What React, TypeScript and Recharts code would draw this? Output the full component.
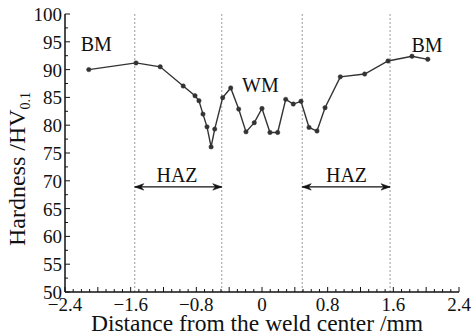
import React from 'react';
import { LineChart, Line, XAxis, YAxis, ReferenceLine, ReferenceDot } from 'recharts';

// Measured points: distance from weld center (mm) and micro-hardness (HV0.1)
const distance = [
  -2.11, -1.535, -1.24, -0.96, -0.816, -0.768, -0.719, -0.67, -0.62, -0.576,
  -0.479, -0.381, -0.284, -0.195, -0.094, 0.0, 0.097, 0.191, 0.289, 0.381,
  0.475, 0.573, 0.67, 0.768, 0.954, 1.251, 1.535, 1.827, 2.02,
];
const hardness = [
  90.0, 91.2, 90.5, 87.05, 85.3, 84.4, 82.0, 79.7, 76.1, 79.3,
  84.95, 86.7, 82.9, 78.8, 80.45, 83.0, 78.7, 78.7, 84.65, 83.8,
  84.3, 79.6, 78.95, 83.15, 88.7, 89.2, 91.55, 92.4, 91.85,
];

// Zone boundaries (dotted lines)
const zoneBounds = [-1.55, -0.49, 0.49, 1.56];

// Axis ticks
const xLabelTicks = [-2.4, -1.6, -0.8, 0, 0.8, 1.6, 2.4];
const xMinorTicks = Array.from({ length: 49 }, (_, i) => Math.round((-2.4 + i * 0.1) * 10) / 10);
const yLabelTicks = [50, 55, 60, 65, 70, 75, 80, 85, 90, 95, 100];
const yMinorTicks = Array.from({ length: 21 }, (_, i) => 50 + i * 2.5);

// Annotations
const zoneLabels = [
  { text: 'BM', x: -2.02, y: 94.6 },
  { text: 'BM', x: 2.01, y: 94.5 },
  { text: 'WM', x: -0.02, y: 87.3 },
  { text: 'HAZ', x: -1.035, y: 71.1 },
  { text: 'HAZ', x: 1.03, y: 71.1 },
];
const arrows = [
  { from: -1.55, to: -0.49, y: 68.9 },
  { from: 0.49, to: 1.56, y: 68.9 },
];

const data = distance.map((d, i) => ({ d, h: hardness[i] }));

const FONT = '"Liberation Serif", "Times New Roman", serif';

const fmtX = (v: number) => {
  if (Math.abs(v) < 1e-9) return '0';
  const s = Math.abs(v).toFixed(1);
  return v < 0 ? '\u2212' + s : s;
};

const XTick = (props: any) => {
  const { x, y, payload } = props;
  const v = payload.value as number;
  const k = Math.round(v * 10);
  const major = k % 4 === 0;
  const labeled = xLabelTicks.some((t) => Math.abs(t - v) < 1e-6);
  return (
    <g>
      <line x1={x} x2={x} y1={y} y2={y - (major ? 5 : 3)} stroke="#111" strokeWidth={1} />
      {labeled && (
        <text x={x} y={y + 18.5} textAnchor="middle" fontFamily={FONT} fontSize={19} fill="#111">
          {fmtX(v)}
        </text>
      )}
    </g>
  );
};

const YTick = (props: any) => {
  const { x, y, payload } = props;
  const v = payload.value as number;
  const labeled = yLabelTicks.some((t) => Math.abs(t - v) < 1e-6);
  return (
    <g>
      <line x1={x} x2={x + (labeled ? 5 : 3)} y1={y} y2={y} stroke="#111" strokeWidth={1} />
      {labeled && (
        <text x={x - 3} y={y + 7} textAnchor="end" fontFamily={FONT} fontSize={19} fill="#111">
          {v}
        </text>
      )}
    </g>
  );
};

const textShape = (txt: string) => (p: any) => (
  <text
    x={p.cx}
    y={p.cy}
    textAnchor="middle"
    dominantBaseline="central"
    fontFamily={FONT}
    fontSize={20}
    fill="#111"
  >
    {txt}
  </text>
);

const arrowHead = (dir: number) => (p: any) => {
  const { cx, cy } = p;
  const L = 9 * dir;
  return (
    <path
      d={`M${cx},${cy} L${cx - L},${cy - 3.2} L${cx - L * 0.7},${cy} L${cx - L},${cy + 3.2} Z`}
      fill="#111"
      stroke="#111"
      strokeWidth={0.6}
    />
  );
};

export default function App() {
  return (
    <div style={{ position: 'absolute', left: 0, top: 0, width: 472, height: 336, background: '#fff' }}>
      <LineChart
        width={472}
        height={336}
        data={data}
        margin={{ top: 14, right: 13, bottom: 0, left: 0 }}
      >
        <XAxis
          dataKey="d"
          type="number"
          domain={[-2.4, 2.4]}
          ticks={xMinorTicks}
          interval={0}
          allowDataOverflow
          height={44}
          tickSize={0}
          tickMargin={0}
          tickLine={false}
          axisLine={{ stroke: '#111', strokeWidth: 1.5 }}
          tick={<XTick />}
        />
        <XAxis
          xAxisId="top"
          orientation="top"
          type="number"
          domain={[-2.4, 2.4]}
          height={0}
          tick={false}
          tickLine={false}
          axisLine={{ stroke: '#111', strokeWidth: 1.5 }}
        />
        <YAxis
          type="number"
          domain={[50, 100]}
          ticks={yMinorTicks}
          interval={0}
          allowDataOverflow
          width={65}
          tickSize={0}
          tickMargin={0}
          tickLine={false}
          axisLine={{ stroke: '#111', strokeWidth: 1.5 }}
          tick={<YTick />}
        />
        <YAxis
          yAxisId="right"
          orientation="right"
          type="number"
          domain={[50, 100]}
          width={0}
          tick={false}
          tickLine={false}
          axisLine={{ stroke: '#111', strokeWidth: 1.5 }}
        />
        {zoneBounds.map((b, i) => (
          <ReferenceLine key={'z' + i} x={b} stroke="#999" strokeDasharray="2 2" strokeWidth={1} />
        ))}
        {arrows.map((a, i) => (
          <ReferenceLine
            key={'a' + i}
            segment={[
              { x: a.from, y: a.y },
              { x: a.to, y: a.y },
            ]}
            stroke="#111"
            strokeWidth={1.2}
          />
        ))}
        {arrows.map((a, i) => (
          <ReferenceDot key={'al' + i} x={a.from} y={a.y} r={0} shape={arrowHead(-1)} />
        ))}
        {arrows.map((a, i) => (
          <ReferenceDot key={'ar' + i} x={a.to} y={a.y} r={0} shape={arrowHead(1)} />
        ))}
        {zoneLabels.map((l, i) => (
          <ReferenceDot key={'t' + i} x={l.x} y={l.y} r={0} shape={textShape(l.text)} />
        ))}
        <Line
          type="linear"
          dataKey="h"
          stroke="#333"
          strokeWidth={1.4}
          dot={{ r: 2.2, fill: '#333', stroke: '#333', strokeWidth: 0.5 }}
          isAnimationActive={false}
        />
      </LineChart>
      <svg
        width={472}
        height={336}
        style={{ position: 'absolute', left: 0, top: 0, pointerEvents: 'none' }}
      >
        <text x={257} y={331} textAnchor="middle" fontFamily={FONT} fontSize={23.5} fill="#111">
          Distance from the weld center /mm
        </text>
        <text
          x={0}
          y={0}
          transform="translate(25,169) rotate(-90)"
          textAnchor="middle"
          fontFamily={FONT}
          fontSize={24}
          fill="#111"
        >
          Hardness /HV
          <tspan fontSize={14} dy={5}>0.1</tspan>
        </text>
      </svg>
    </div>
  );
}
